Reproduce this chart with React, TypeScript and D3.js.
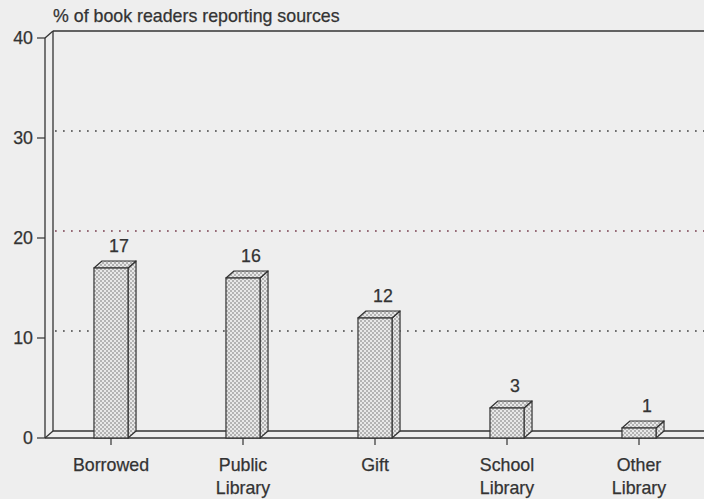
import React from 'react';
import * as d3 from 'd3';

const categories = ['Borrowed', 'Public Library', 'Gift', 'School Library', 'Other Library'];
const values = [17, 16, 12, 3, 1];
const yTicks = [0, 10, 20, 30, 40];
const gridValues = [10, 20, 30];
const title = '% of book readers reporting sources';

const W = 704;
const H = 499;
const DX = 8;
const DY = -7;
const FONT = '"Liberation Sans", Arial, Helvetica, sans-serif';
const INK = '#333';
const FS = 17.8;

export default function App() {
  const x0 = 45;
  const y = d3.scaleLinear().domain([0, 40]).range([438, 38]);
  const x = d3
    .scaleBand<string>()
    .domain(categories)
    .range([x0, x0 + 660])
    .paddingInner(0.742)
    .paddingOuter(0.371);
  const bw = x.bandwidth();
  const yBase = y(0);
  const yTop = y(40);
  const textStyle = { fontFamily: FONT, fontSize: FS, fill: INK, stroke: INK, strokeWidth: 0.25 };

  return (
    <svg width={W} height={H} style={{ position: 'absolute', left: 0, top: 0, background: '#eeeeee' }}>
      <defs>
        <pattern id="stipple" width={4} height={4} patternUnits="userSpaceOnUse">
          <rect width={4} height={4} fill="#e8e8e8" />
          <circle cx={1} cy={1} r={0.8} fill="#707070" />
          <circle cx={3} cy={3} r={0.8} fill="#707070" />
        </pattern>
      </defs>
      <rect width={W} height={H} fill="#eeeeee" />
      {/* title */}
      <text x={53} y={22} {...textStyle}>
        {title}
      </text>
      {/* back wall top frame */}
      <line x1={x0 + DX} x2={W} y1={yTop + DY} y2={yTop + DY} stroke={INK} strokeWidth={1.3} />
      {/* left wall */}
      <line x1={x0} x2={x0} y1={yTop} y2={yBase} stroke={INK} strokeWidth={1.3} />
      <line x1={x0 + DX} x2={x0 + DX} y1={yTop + DY} y2={yBase + DY} stroke={INK} strokeWidth={1.3} />
      <line x1={x0} x2={x0 + DX} y1={yTop} y2={yTop + DY} stroke={INK} strokeWidth={1.3} />
      <line x1={x0} x2={x0 + DX} y1={yBase} y2={yBase + DY} stroke={INK} strokeWidth={1.3} />
      {/* gridlines on back wall */}
      {gridValues.map((v) => (
        <line
          key={v}
          x1={x0 + DX + 2}
          x2={W}
          y1={y(v) + DY}
          y2={y(v) + DY}
          stroke={v === 20 ? '#7a4050' : '#444'}
          strokeWidth={1.7}
          strokeDasharray="1.7 6.3"
        />
      ))}
      {/* floor */}
      <line x1={x0 + DX} x2={W} y1={yBase + DY} y2={yBase + DY} stroke={INK} strokeWidth={1.3} />
      <line x1={x0} x2={W} y1={yBase} y2={yBase} stroke={INK} strokeWidth={1.3} />
      {/* y ticks */}
      {yTicks.map((v) => (
        <g key={v}>
          <line x1={x0 - 8} x2={x0} y1={y(v)} y2={y(v)} stroke={INK} strokeWidth={1.2} />
          <text x={x0 - 12} y={y(v)} dy="0.36em" textAnchor="end" {...textStyle}>
            {v}
          </text>
        </g>
      ))}
      {/* bars */}
      {categories.map((c, i) => {
        const bx = x(c) as number;
        const by = y(values[i]);
        const side = [
          [bx + bw, by],
          [bx + bw + DX, by + DY],
          [bx + bw + DX, yBase + DY],
          [bx + bw, yBase],
        ];
        const top = [
          [bx, by],
          [bx + DX, by + DY],
          [bx + bw + DX, by + DY],
          [bx + bw, by],
        ];
        const pts = (p: number[][]) => p.map((q) => q.join(',')).join(' ');
        return (
          <g key={c}>
            <polygon points={pts(side)} fill="url(#stipple)" stroke={INK} strokeWidth={1.2} strokeLinejoin="round" />
            <polygon points={pts(top)} fill="url(#stipple)" stroke={INK} strokeWidth={1.2} strokeLinejoin="round" />
            <rect x={bx} y={by} width={bw} height={yBase - by} fill="url(#stipple)" stroke={INK} strokeWidth={1.2} />
            <text x={bx + bw / 2 + DX} y={by + DY - 9} textAnchor="middle" {...textStyle}>
              {values[i]}
            </text>
          </g>
        );
      })}
      {/* category ticks & labels */}
      {categories.map((c) => {
        const cx = (x(c) as number) + bw / 2;
        const lines = c.split(' ');
        return (
          <g key={c}>
            <line x1={cx} x2={cx} y1={yBase} y2={yBase + 7} stroke={INK} strokeWidth={1.2} />
            {lines.map((t, j) => (
              <text key={t} x={cx} y={471 + j * 23} textAnchor="middle" {...textStyle}>
                {t}
              </text>
            ))}
          </g>
        );
      })}
    </svg>
  );
}
